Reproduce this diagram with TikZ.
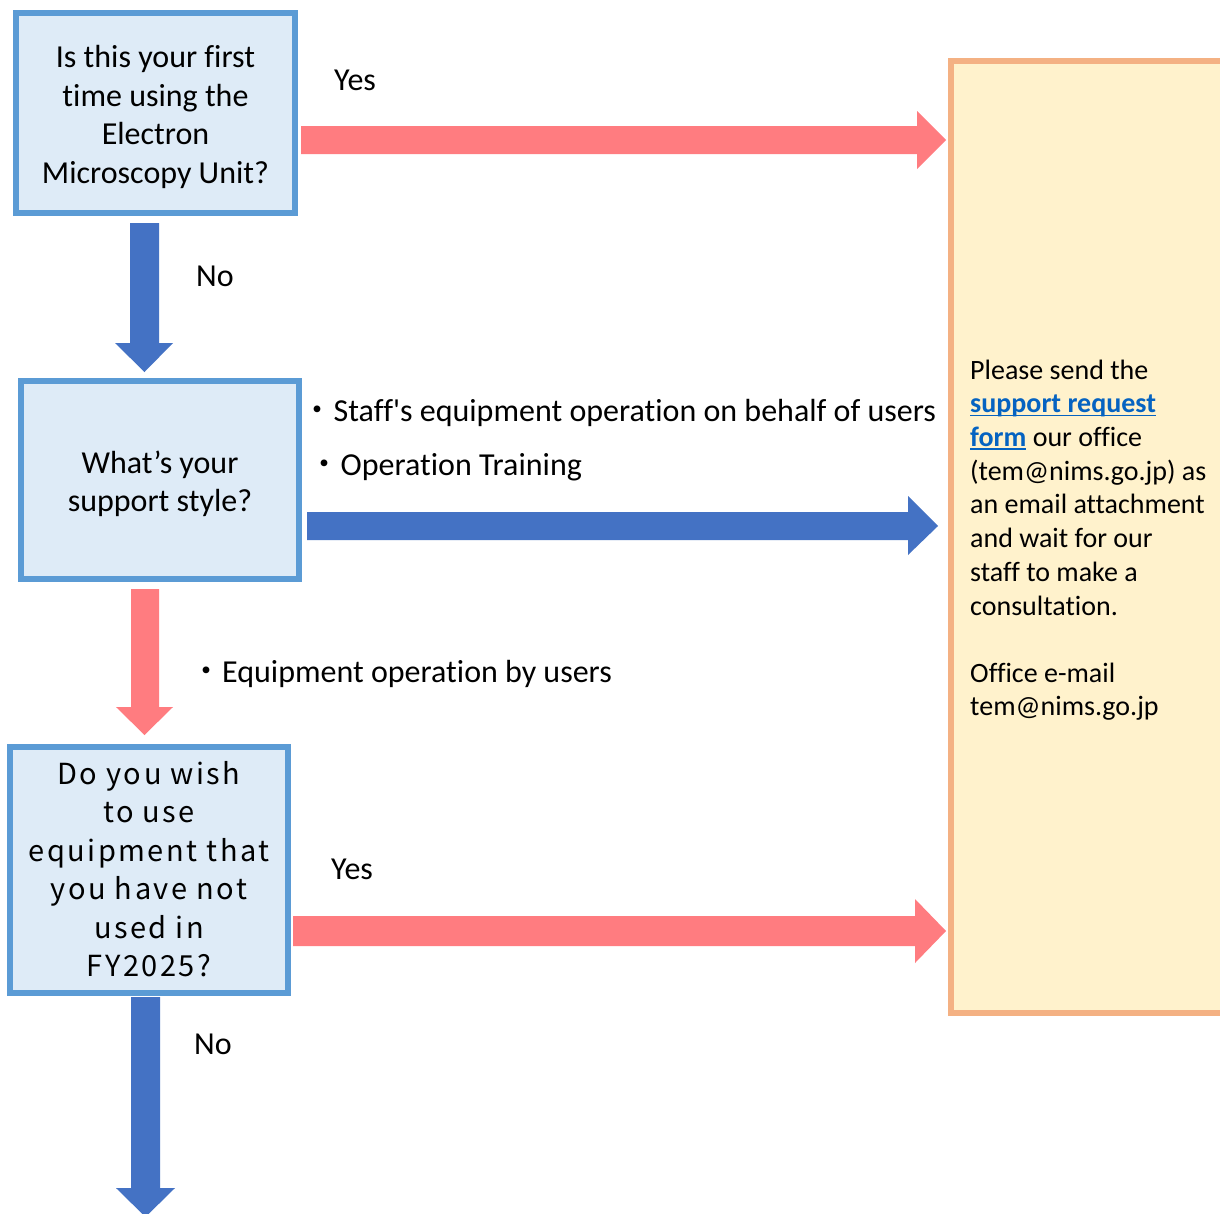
\documentclass[tikz,border=0pt]{standalone}
\usepackage{fontspec}
\setmainfont{Carlito}[Ligatures={TeXOff,NoCommon}]
\newfontfamily\jpfont{Noto Sans CJK JP}
\newfontfamily\yufont[LetterSpace=8.6]{Noto Sans CJK JP}
\definecolor{qfill}{HTML}{DEEBF7}
\definecolor{qborder}{HTML}{5B9BD5}
\definecolor{redarr}{HTML}{FF7C80}
\definecolor{bluearr}{HTML}{4472C4}
\definecolor{rfill}{HTML}{FFF2CC}
\definecolor{rborder}{HTML}{F4B183}
\definecolor{linkc}{HTML}{0563C1}
\newcommand\myul[1]{\setbox0=\hbox{#1}\rlap{\rule[-3.5pt]{\wd0}{1.8pt}}\box0}
\newcommand\dotb{{\jpfont ・}}
\begin{document}
\begin{tikzpicture}[x=1pt,y=-1pt,
  qbox/.style={draw=qborder, fill=qfill, line width=6pt, inner sep=0pt},
  qtext/.style={inner sep=0pt, align=center, font=\fontsize{32}{38.5}\selectfont},
  rbox/.style={draw=rborder, fill=rfill, line width=6pt, inner sep=0pt},
  lbl/.style={inner sep=0pt, anchor=base west, font=\fontsize{32}{38.5}\selectfont},
  redfill/.style={fill=redarr, draw=none},
  bluefill/.style={fill=bluearr, draw=none}]
\useasboundingbox (0,0) rectangle (1220,1213);
\fill[white] (0,0) rectangle (1220,1213);

% boxes
\node[qbox, minimum width=279pt, minimum height=200pt] (q1) at (155.5,113) {};
\node[qtext] (q1t) at ([yshift=-4pt]q1.center)
  {Is this your first\\time using the\\Electron\\Microscopy Unit?};
\node[qbox, minimum width=278pt, minimum height=198pt] (q2) at (160,480) {};
\node[qtext] (q2t) at ([yshift=-4pt]q2.center)
  {What’s your\\support style?};
\node[qbox, minimum width=278pt, minimum height=246pt] (q3) at (149,870) {};
\node[qtext, font={\yufont\fontsize{29}{38.5}\selectfont}] (q3t) at ([yshift=1pt]q3.center)
  {Do you wish\\to use\\equipment that\\you have not\\used in\\FY2025?};
\node[rbox, minimum width=290pt, minimum height=952pt] (r) at (1096,537) {};
\node[inner sep=0pt, anchor=north west, align=left,
  font=\fontsize{28}{33.7}\selectfont] (rt) at (970,359.5)
  {Please send the\\
   \textcolor{linkc}{\myul{\textbf{support request}}}\\
   \textcolor{linkc}{\myul{\textbf{form}}} our office\\
   (tem@nims.go.jp) as\\
   an email attachment\\
   and wait for our\\
   staff to make a\\
   consultation.\\[33.5pt]
   Office e-mail\\
   tem@nims.go.jp};

% arrows
\fill[redfill] (301,126) -- (917,126) -- (917,111) -- (946,140) -- (917,169) -- (917,154) -- (301,154) -- cycle;
\fill[bluefill] (307,512) -- (908,512) -- (908,496) -- (938,526) -- (908,555) -- (908,540) -- (307,540) -- cycle;
\fill[redfill] (293,916) -- (915,916) -- (915,899) -- (946,931) -- (915,963) -- (915,946) -- (293,946) -- cycle;
\fill[bluefill] (130,223) -- (130,343) -- (115,343) -- (144.5,372) -- (173,343) -- (159,343) -- (159,223) -- cycle;
\fill[redfill] (131,589) -- (131,707) -- (116,707) -- (144.5,735) -- (173,707) -- (159,707) -- (159,589) -- cycle;
\fill[bluefill] (131,997) -- (131,1188) -- (116,1188) -- (145.5,1217) -- (175,1188) -- (160,1188) -- (160,997) -- cycle;

% labels
\node[lbl] (yes1) at (334,90) {Yes};
\node[lbl] (no1) at (196,286) {No};
\node[lbl] (s1) at (301.5,421) {\dotb Staff's equipment operation on behalf of users};
\node[lbl] (s2) at (308.5,475) {\dotb Operation Training};
\node[lbl] (s3) at (190,682) {\dotb Equipment operation by users};
\node[lbl] (yes2) at (331,879) {Yes};
\node[lbl] (no2) at (194,1054) {No};
\end{tikzpicture}
\end{document}
